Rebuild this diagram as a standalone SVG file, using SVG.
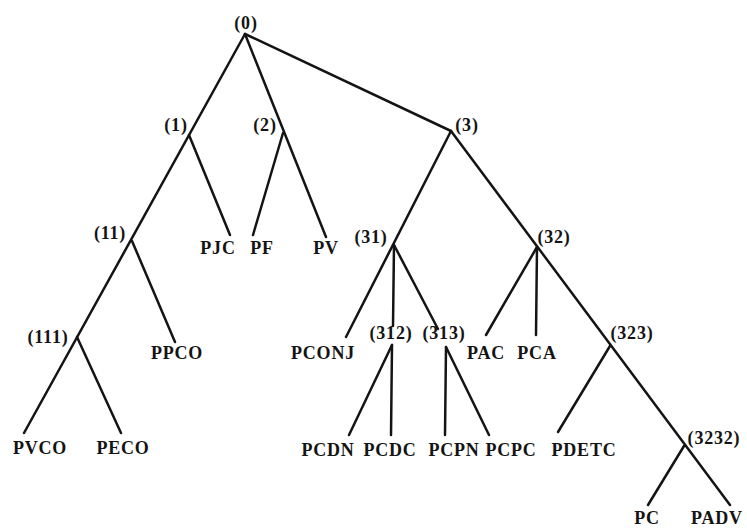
<svg xmlns="http://www.w3.org/2000/svg" width="747" height="530" viewBox="0 0 747 530">
<style>
.e{stroke:#141414;stroke-width:2.5;fill:none;stroke-linecap:round}
text{font-family:"Liberation Serif","Times New Roman",serif;font-weight:bold;font-size:18px;fill:#141414;text-anchor:middle;letter-spacing:0.8px}
</style>
<rect width="747" height="530" fill="#ffffff"/>
<g id="connectors">
<line class="e" x1="245" y1="34" x2="24" y2="433"/>
<line class="e" x1="189" y1="135" x2="230" y2="235"/>
<line class="e" x1="132" y1="241" x2="175" y2="342"/>
<line class="e" x1="77" y1="337" x2="121" y2="433"/>
<line class="e" x1="245" y1="34" x2="326" y2="237"/>
<line class="e" x1="283" y1="133" x2="253" y2="235"/>
<line class="e" x1="245" y1="34" x2="451" y2="131"/>
<line class="e" x1="451" y1="131" x2="346" y2="337"/>
<line class="e" x1="451" y1="131" x2="730" y2="505"/>
<line class="e" x1="394" y1="245" x2="393" y2="326"/>
<line class="e" x1="394" y1="245" x2="438" y2="329"/>
<line class="e" x1="392" y1="345" x2="391" y2="435"/>
<line class="e" x1="392" y1="345" x2="349" y2="435"/>
<line class="e" x1="446" y1="347" x2="445" y2="435"/>
<line class="e" x1="446" y1="347" x2="489" y2="435"/>
<line class="e" x1="537" y1="247" x2="486" y2="335"/>
<line class="e" x1="537" y1="247" x2="536" y2="335"/>
<line class="e" x1="610" y1="346" x2="558" y2="432"/>
<line class="e" x1="684" y1="446" x2="648" y2="505"/>
</g>
<g id="n0"><text x="246" y="29">(0)</text></g>
<g id="n1"><text x="176" y="131">(1)</text></g>
<g id="n2"><text x="265" y="131">(2)</text></g>
<g id="n3"><text x="467" y="131">(3)</text></g>
<g id="n11"><text x="110" y="239">(11)</text></g>
<g id="nPJC"><text x="218" y="254">PJC</text></g>
<g id="nPF"><text x="262" y="254">PF</text></g>
<g id="nPV"><text x="326" y="254">PV</text></g>
<g id="n31"><text x="371" y="243">(31)</text></g>
<g id="n32"><text x="554" y="243">(32)</text></g>
<g id="n111"><text x="48" y="343">(111)</text></g>
<g id="nPPCO"><text x="177" y="359">PPCO</text></g>
<g id="nPCONJ"><text x="323" y="359">PCONJ</text></g>
<g id="n312"><text x="391" y="339">(312)</text></g>
<g id="n313"><text x="444" y="339">(313)</text></g>
<g id="nPAC"><text x="486" y="359">PAC</text></g>
<g id="nPCA"><text x="537" y="359">PCA</text></g>
<g id="n323"><text x="632" y="339">(323)</text></g>
<g id="nPVCO"><text x="40" y="454">PVCO</text></g>
<g id="nPECO"><text x="123" y="454">PECO</text></g>
<g id="nPCDN"><text x="328" y="456">PCDN</text></g>
<g id="nPCDC"><text x="390" y="456">PCDC</text></g>
<g id="nPCPN"><text x="454" y="456">PCPN</text></g>
<g id="nPCPC"><text x="511" y="456">PCPC</text></g>
<g id="nPDETC"><text x="584" y="456">PDETC</text></g>
<g id="n3232"><text x="714" y="444">(3232)</text></g>
<g id="nPC"><text x="647" y="524">PC</text></g>
<g id="nPADV"><text x="717" y="524">PADV</text></g>
</svg>
